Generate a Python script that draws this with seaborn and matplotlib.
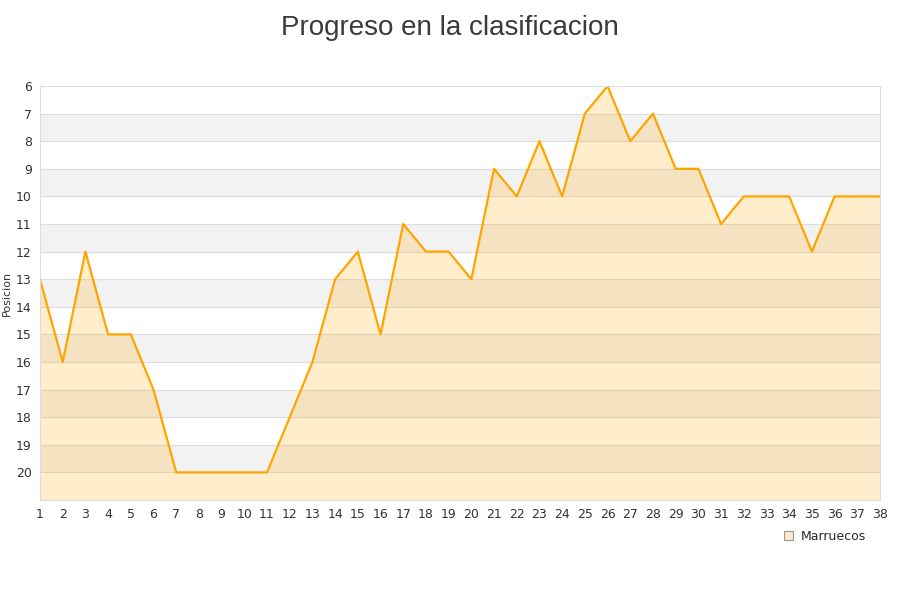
import numpy as np
import pandas as pd
import seaborn as sns
import matplotlib.pyplot as plt

# datos
jornadas = list(range(1, 39))
posiciones = [13, 16, 12, 15, 15, 17, 20, 20, 20, 20, 20, 18, 16, 13, 12, 15, 11, 12, 12, 13,
              9, 10, 8, 10, 7, 6, 8, 7, 9, 9, 11, 10, 10, 10, 12, 10, 10, 10]
y_ticks = list(range(6, 21))
equipo = 'Marruecos'

df = pd.DataFrame({'Jornada': jornadas, 'Posicion': posiciones})

sns.set_theme(style='white')
plt.rcParams['font.family'] = ['DejaVu Sans']

fig = plt.figure(figsize=(9, 6), dpi=100)
ax = fig.add_axes([40 / 900, 100 / 600, 840 / 900, 414 / 600])

# bandas alternas
for y0 in range(7, 21, 2):
    ax.axhspan(y0, y0 + 1, color='#f2f2f2', zorder=0, lw=0)
for y0 in range(7, 22):
    ax.axhline(y0, color='#dddddd', lw=0.8, zorder=0.5)

ax.fill_between(df['Jornada'], df['Posicion'], 21, color='#ffa500', alpha=0.2, lw=0, zorder=1)
sns.lineplot(data=df, x='Jornada', y='Posicion', color='#ffa500', lw=1.6, ax=ax, zorder=2)

ax.set_xlim(1, 38)
ax.set_ylim(21, 6)
ax.set_xticks(jornadas)
ax.set_yticks(y_ticks)
ax.tick_params(axis='both', labelsize=9, colors='#333333', length=0, pad=6)
ax.set_xlabel('')
ax.set_ylabel('Posicion', fontsize=8, color='#333333', labelpad=3)
for s in ax.spines.values():
    s.set_color('#dddddd')
    s.set_linewidth(0.8)

fig.text(0.5, 0.975, 'Progreso en la clasificacion', ha='center', va='top',
         fontsize=20, color='#3a3a3a', family='Liberation Sans')

# leyenda
handle = plt.Rectangle((0, 0), 1, 1, facecolor='#ffebcc', edgecolor='#999999', lw=0.8)
fig.legend([handle], [equipo], loc='center', bbox_to_anchor=(825 / 900, 1 - 536 / 600),
           frameon=False, fontsize=9, handlelength=0.7, handleheight=0.7, handletextpad=0.6)

fig.savefig('out.png', dpi=100)
